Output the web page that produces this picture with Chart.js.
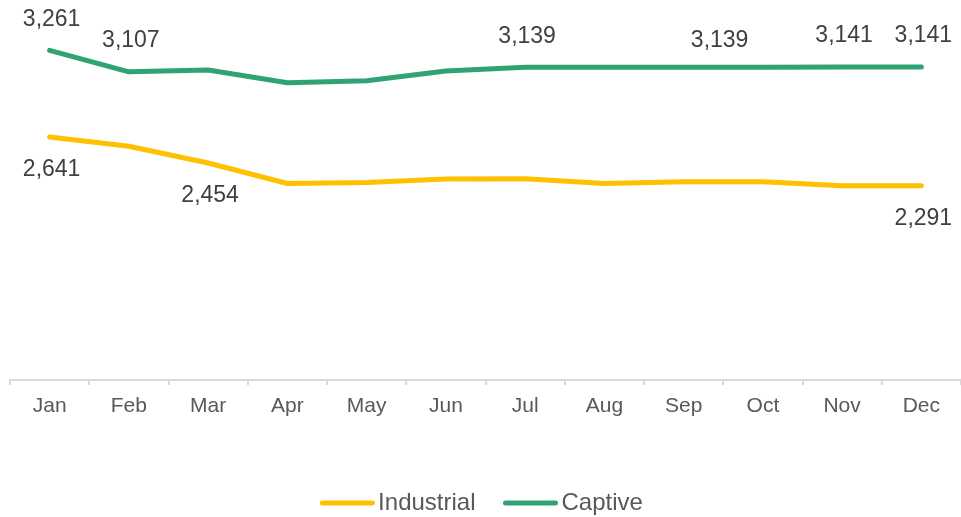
<!DOCTYPE html>
<html>
<head>
<meta charset="utf-8">
<script src="https://cdn.jsdelivr.net/npm/chart.js@4/dist/chart.umd.min.js"></script>
<style>
  html, body { margin: 0; padding: 0; background: #ffffff; }
  #wrap { width: 961px; height: 517px; }
</style>
</head>
<body>
<div id="wrap"><canvas id="chart" width="961" height="517"></canvas></div>
<script>
// Monthly volumes by segment
const months = ['Jan', 'Feb', 'Mar', 'Apr', 'May', 'Jun', 'Jul', 'Aug', 'Sep', 'Oct', 'Nov', 'Dec'];
const industrial = [2641, 2574, 2454, 2307, 2314, 2340, 2342, 2307, 2319, 2319, 2292, 2291];
const captive = [3261, 3107, 3120, 3029, 3043, 3113, 3139, 3139, 3139, 3140, 3141, 3141];

// Months whose value is printed next to the line
const industrialLabelIdx = [0, 2, 11];
const captiveLabelIdx = [0, 1, 6, 8, 10, 11];

const FONT = "'Liberation Sans', Arial, sans-serif";
const YELLOW = '#FFC000';
const GREEN = '#2FA374';

const fmt = v => v.toLocaleString('en-US');

// Short rounded stroke used as the legend swatch
function swatch(color) {
  const c = document.createElement('canvas');
  c.width = 55;
  c.height = 6;
  const g = c.getContext('2d');
  g.strokeStyle = color;
  g.lineWidth = 5;
  g.lineCap = 'round';
  g.beginPath();
  g.moveTo(2.5, 3);
  g.lineTo(52.5, 3);
  g.stroke();
  return c;
}

// Prints the selected values above (Captive) or below (Industrial) their points
const valueLabels = {
  id: 'valueLabels',
  afterDatasetsDraw(chart, args, opts) {
    const ctx = chart.ctx;
    ctx.save();
    ctx.font = opts.font;
    ctx.fillStyle = opts.color;
    ctx.textAlign = 'center';
    ctx.textBaseline = 'middle';
    chart.data.datasets.forEach((ds, di) => {
      const meta = chart.getDatasetMeta(di);
      const dir = ds.labelSide === 'above' ? -1 : 1;
      ds.labelIndices.forEach(i => {
        const pt = meta.data[i];
        const nudge = (opts.nudges[ds.label] && opts.nudges[ds.label][i]) || [0, 0];
        ctx.fillText(fmt(ds.data[i]),
          pt.x + opts.dx + nudge[0],
          pt.y + dir * opts.offset + opts.dy + nudge[1]);
      });
    });
    ctx.restore();
  }
};

new Chart(document.getElementById('chart'), {
  type: 'line',
  data: {
    labels: months,
    datasets: [
      {
        label: 'Industrial',
        data: industrial,
        borderColor: YELLOW,
        backgroundColor: YELLOW,
        borderWidth: 5,
        pointRadius: 0,
        pointStyle: swatch(YELLOW),
        tension: 0,
        borderCapStyle: 'round',
        borderJoinStyle: 'round',
        labelIndices: industrialLabelIdx,
        labelSide: 'below'
      },
      {
        label: 'Captive',
        data: captive,
        borderColor: GREEN,
        backgroundColor: GREEN,
        borderWidth: 5,
        pointRadius: 0,
        pointStyle: swatch(GREEN),
        tension: 0,
        borderCapStyle: 'round',
        borderJoinStyle: 'round',
        labelIndices: captiveLabelIdx,
        labelSide: 'above'
      }
    ]
  },
  options: {
    responsive: false,
    animation: false,
    devicePixelRatio: 1,
    layout: { padding: { top: 3, left: 10, right: 0, bottom: -8 } },
    scales: {
      x: {
        offset: true,
        grid: {
          display: true,
          offset: true,
          drawOnChartArea: false,
          drawTicks: true,
          tickLength: 5,
          color: '#d9d9d9',
          lineWidth: 2
        },
        border: { display: true, color: '#d9d9d9', width: 2 },
        ticks: {
          font: { family: FONT, size: 21 },
          color: '#595959',
          padding: 9,
          maxRotation: 0,
          autoSkip: false
        },
        afterFit(scale) { scale.height = 75; }
      },
      y: { display: false, min: 900, max: 3600 }
    },
    plugins: {
      legend: {
        position: 'bottom',
        labels: {
          usePointStyle: true,
          pointStyleWidth: 38,
          font: { family: FONT, size: 24 },
          color: '#595959',
          padding: 36
        }
      },
      tooltip: { enabled: false },
      valueLabels: {
        font: '23px ' + FONT,
        color: '#404040',
        offset: 32,
        dx: 2,
        dy: 1,
        nudges: { Captive: { 8: [34, 4] } }
      }
    }
  },
  plugins: [valueLabels]
});
</script>
</body>
</html>
